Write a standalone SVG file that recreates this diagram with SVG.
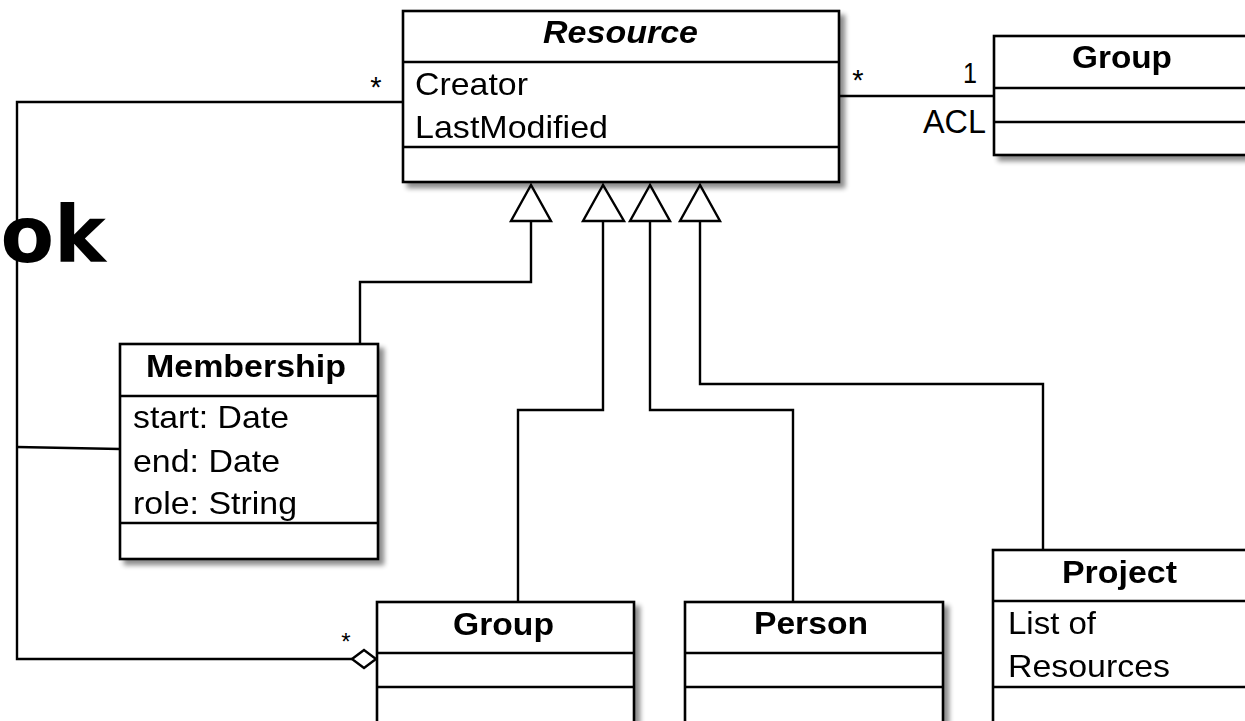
<svg xmlns="http://www.w3.org/2000/svg" width="1245" height="721" viewBox="0 0 1245 721">
<defs>
<filter id="sh" x="-10%" y="-10%" width="130%" height="130%">
<feGaussianBlur in="SourceAlpha" stdDeviation="2.5"/>
<feOffset dx="5" dy="5" result="b"/>
<feComponentTransfer><feFuncA type="linear" slope="0.45"/></feComponentTransfer>
<feMerge><feMergeNode/><feMergeNode in="SourceGraphic"/></feMerge>
</filter>
</defs>
<style>
.box{fill:#fff;stroke:#000;stroke-width:2.6}
.sep{stroke:#000;stroke-width:2.6}
.t{font-family:"Liberation Sans",Arial,sans-serif;font-size:32px;fill:#000}
.b{font-weight:bold;font-size:31px}
.c{fill:none;stroke:#000;stroke-width:2.4}
.tri{fill:#fff;stroke:#000;stroke-width:2.4}
</style>
<rect width="1245" height="721" fill="#fff"/>
<text x="106" y="262" text-anchor="end" style="font-family:'DejaVu Sans',sans-serif;font-weight:bold;font-size:78px" fill="#000">ok</text>

<g id="connectors">
<line class="c" x1="839" y1="96" x2="994" y2="96"/>
<path class="c" d="M403,102 H17 V659 H352"/>
<polygon points="352,659 364,650 376,659 364,668" fill="#fff" stroke="#000" stroke-width="2.4"/>
<line class="c" x1="17" y1="447" x2="120" y2="449"/>
<path class="c" d="M360,344 V282 H531 V221"/>
<polygon class="tri" points="531,185 511,221 551,221"/>
<path class="c" d="M518,602 V410 H603 V221"/>
<polygon class="tri" points="603,185 583,221 624,221"/>
<path class="c" d="M793,602 V410 H650 V221"/>
<polygon class="tri" points="650,185 630,221 670,221"/>
<path class="c" d="M1043,550 V384 H700 V221"/>
<polygon class="tri" points="700,185 680,221 720,221"/>
<text class="t" x="376" y="97" text-anchor="middle" style="font-size:29px">*</text>
<text class="t" x="858" y="90" text-anchor="middle" style="font-size:29px">*</text>
<text class="t" x="977" y="83" text-anchor="end" style="font-size:29px" textLength="14" lengthAdjust="spacingAndGlyphs">1</text>
<text class="t" x="923" y="133" style="font-size:34px" textLength="63" lengthAdjust="spacingAndGlyphs">ACL</text>
<text class="t" x="346" y="650" text-anchor="middle" style="font-size:24px">*</text>
</g>

<g id="resource" filter="url(#sh)">
<rect class="box" x="403" y="11" width="436" height="171"/>
<line class="sep" x1="403" y1="62" x2="839" y2="62"/>
<line class="sep" x1="403" y1="147" x2="839" y2="147"/>
<text class="t b" x="543" y="43" font-style="italic" textLength="155" lengthAdjust="spacingAndGlyphs">Resource</text>
<text class="t" x="415" y="95" textLength="113" lengthAdjust="spacingAndGlyphs">Creator</text>
<text class="t" x="415" y="138" textLength="193" lengthAdjust="spacingAndGlyphs">LastModified</text>
</g>

<g id="group-acl" filter="url(#sh)">
<rect class="box" x="994" y="36" width="262" height="119"/>
<line class="sep" x1="994" y1="88" x2="1256" y2="88"/>
<line class="sep" x1="994" y1="122" x2="1256" y2="122"/>
<text class="t b" x="1072" y="68" textLength="100" lengthAdjust="spacingAndGlyphs">Group</text>
</g>

<g id="membership" filter="url(#sh)">
<rect class="box" x="120" y="344" width="258" height="215"/>
<line class="sep" x1="120" y1="396" x2="378" y2="396"/>
<line class="sep" x1="120" y1="523" x2="378" y2="523"/>
<text class="t b" x="146" y="377" textLength="200" lengthAdjust="spacingAndGlyphs">Membership</text>
<text class="t" x="133" y="428" textLength="156" lengthAdjust="spacingAndGlyphs">start: Date</text>
<text class="t" x="133" y="472" textLength="147" lengthAdjust="spacingAndGlyphs">end: Date</text>
<text class="t" x="133" y="514" textLength="164" lengthAdjust="spacingAndGlyphs">role: String</text>
</g>

<g id="group" filter="url(#sh)">
<rect class="box" x="377" y="602" width="257" height="140"/>
<line class="sep" x1="377" y1="653" x2="634" y2="653"/>
<line class="sep" x1="377" y1="687" x2="634" y2="687"/>
<text class="t b" x="453" y="635" textLength="101" lengthAdjust="spacingAndGlyphs">Group</text>
</g>

<g id="person" filter="url(#sh)">
<rect class="box" x="685" y="602" width="258" height="140"/>
<line class="sep" x1="685" y1="653" x2="943" y2="653"/>
<line class="sep" x1="685" y1="687" x2="943" y2="687"/>
<text class="t b" x="754" y="634" textLength="114" lengthAdjust="spacingAndGlyphs">Person</text>
</g>

<g id="project" filter="url(#sh)">
<rect class="box" x="993" y="550" width="263" height="192"/>
<line class="sep" x1="993" y1="601" x2="1256" y2="601"/>
<line class="sep" x1="993" y1="687" x2="1256" y2="687"/>
<text class="t b" x="1062" y="583" textLength="115" lengthAdjust="spacingAndGlyphs">Project</text>
<text class="t" x="1008" y="634" textLength="88" lengthAdjust="spacingAndGlyphs">List of</text>
<text class="t" x="1008" y="677" textLength="162" lengthAdjust="spacingAndGlyphs">Resources</text>
</g>
</svg>
